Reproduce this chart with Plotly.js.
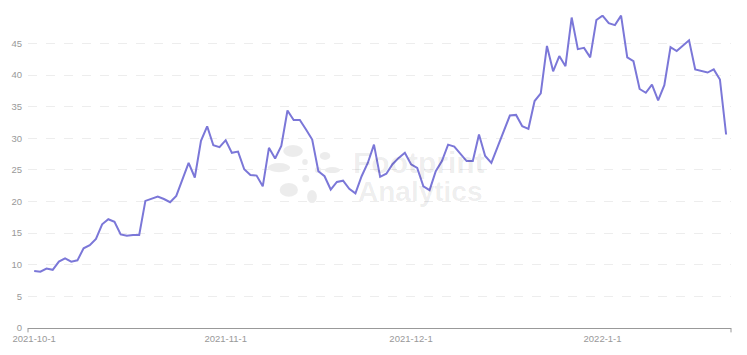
<!DOCTYPE html>
<html>
<head>
<meta charset="utf-8">
<script src="https://cdn.plot.ly/plotly-3.0.1.min.js"></script>
<style>
  html, body { margin: 0; padding: 0; background: #ffffff; }
  #chart { width: 747px; height: 355px; }
</style>
</head>
<body>
<div id="chart"></div>
<script>
// Daily series starting 2021-10-01
const startDate = '2021-10-01';
const values = [
  9.0, 8.9, 9.4, 9.2, 10.5, 11.0, 10.5, 10.7, 12.6, 13.1,
  14.1, 16.4, 17.2, 16.8, 14.8, 14.6, 14.7, 14.7, 20.1, 20.4,
  20.8, 20.4, 19.9, 20.9, 23.5, 26.1, 23.8, 29.6, 31.9, 28.9,
  28.6, 29.7, 27.7, 27.9, 25.1, 24.2, 24.1, 22.4, 28.5, 26.8,
  28.8, 34.4, 32.9, 32.9, 31.4, 29.8, 24.8, 24.0, 21.9, 23.1,
  23.3, 22.0, 21.3, 24.0, 26.1, 29.0, 23.9, 24.4, 25.9, 26.9,
  27.7, 25.9, 25.3, 22.4, 21.8, 24.8, 26.4, 29.0, 28.7, 27.5,
  26.4, 26.4, 30.6, 27.2, 26.1, 28.6, 31.1, 33.6, 33.7, 31.9,
  31.5, 35.9, 37.1, 44.6, 40.6, 43.0, 41.4, 49.1, 44.1, 44.3,
  42.8, 48.7, 49.4, 48.2, 47.9, 49.4, 42.8, 42.2, 37.8, 37.2,
  38.5, 36.0, 38.4, 44.4, 43.8, 44.7, 45.5, 40.9, 40.7, 40.4,
  40.9, 39.3, 30.6
];
const tickDates = ['2021-10-01', '2021-11-01', '2021-12-01', '2022-01-01'];
const tickLabels = ['2021-10-1', '2021-11-1', '2021-12-1', '2022-1-1'];
const yTicks = [0, 5, 10, 15, 20, 25, 30, 35, 40, 45];

// consecutive calendar days for the x axis
const dates = [];
{
  const d0 = new Date(startDate + 'T00:00:00Z');
  for (let i = 0; i < values.length; i++) {
    const d = new Date(d0.getTime() + i * 86400000);
    dates.push(d.toISOString().slice(0, 10));
  }
}

const trace = {
  x: dates,
  y: values,
  type: 'scatter',
  mode: 'lines',
  line: { color: '#7b77d8', width: 2 },
  hoverinfo: 'x+y'
};

const wm = 'rgba(0,0,0,0.075)';
function petal(x0, x1, y0, y1) {
  return { type: 'circle', xref: 'paper', yref: 'paper', x0: x0, x1: x1, y0: y0, y1: y1,
           fillcolor: wm, line: { width: 0 }, layer: 'below' };
}
const layout = {
  width: 747,
  height: 355,
  margin: { l: 28, r: 16, t: 15, b: 27 },
  paper_bgcolor: '#ffffff',
  plot_bgcolor: '#ffffff',
  showlegend: false,
  font: { family: 'Liberation Sans, Arial, sans-serif', size: 9.5, color: '#999999' },
  xaxis: {
    type: 'date',
    range: ['2021-09-30T00:00', '2022-01-21T19:00'],
    tickvals: tickDates,
    ticktext: tickLabels,
    showgrid: false,
    zeroline: false,
    showline: true,
    linecolor: '#999999',
    linewidth: 1,
    ticks: '',
    tickfont: { size: 9.5, color: '#999999' },
    ticklabelstandoff: 2,
    fixedrange: true
  },
  yaxis: {
    range: [0, 49.5],
    tickvals: yTicks,
    showgrid: true,
    gridcolor: '#ededed',
    griddash: 'dash',
    gridwidth: 1,
    zeroline: false,
    showline: false,
    ticks: '',
    tickfont: { size: 9.5, color: '#999999' },
    ticklabelstandoff: 5,
    fixedrange: true
  },
  shapes: [
    { type: 'line', xref: 'paper', yref: 'paper', x0: 0, x1: 0, y0: 0, y1: -0.014, line: { color: '#999999', width: 1 } },
    { type: 'line', xref: 'paper', yref: 'paper', x0: 1, x1: 1, y0: 0, y1: -0.014, line: { color: '#999999', width: 1 } },
    // watermark logo (decorative)
    petal(0.363, 0.391, 0.546, 0.585),
    petal(0.341, 0.373, 0.498, 0.527),
    petal(0.358, 0.384, 0.419, 0.463),
    petal(0.397, 0.411, 0.399, 0.441),
    petal(0.390, 0.398, 0.521, 0.540),
    petal(0.408, 0.417, 0.495, 0.514),
    petal(0.390, 0.400, 0.466, 0.489),
    petal(0.415, 0.430, 0.537, 0.562),
    petal(0.422, 0.444, 0.495, 0.514)
  ],
  annotations: [
    { text: '<b>Footprint</b>', xref: 'paper', yref: 'paper', x: 0.460, y: 0.530, xanchor: 'left', yanchor: 'middle', showarrow: false,
      font: { family: 'Liberation Sans, Arial, sans-serif', size: 30, color: wm } },
    { text: '<b>Analytics</b>', xref: 'paper', yref: 'paper', x: 0.466, y: 0.435, xanchor: 'left', yanchor: 'middle', showarrow: false,
      font: { family: 'Liberation Sans, Arial, sans-serif', size: 28, color: wm } }
  ]
};

Plotly.newPlot('chart', [trace], layout, { displayModeBar: false, staticPlot: true });
</script>
</body>
</html>
